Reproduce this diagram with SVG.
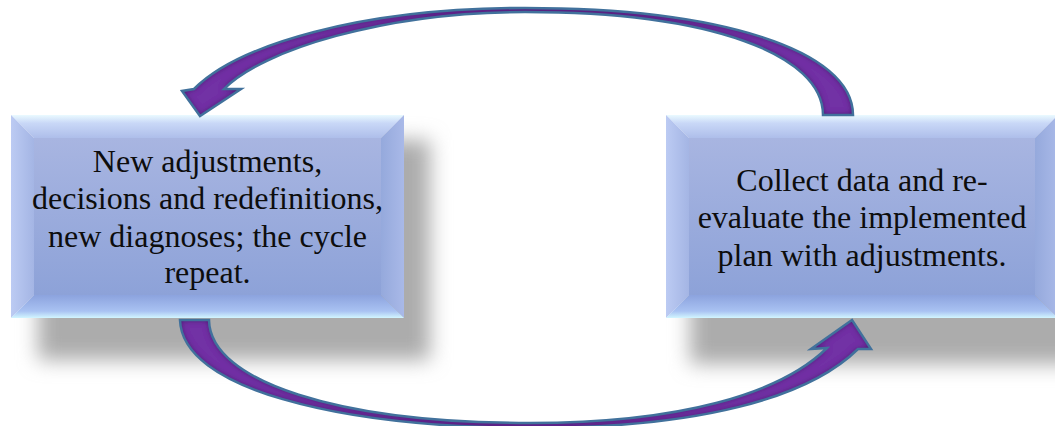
<svg xmlns="http://www.w3.org/2000/svg" width="1055" height="426" viewBox="0 0 1055 426">
<defs>
<style>
.txt{font-family:'Liberation Serif','Times New Roman','DejaVu Serif',serif;font-size:32px;fill:#0d0d0d;text-anchor:middle}
.arrowFill{fill:#7231a5;stroke:none;filter:url(#bevel)}
.arrowLine{fill:none;stroke:#41719c;stroke-width:2.5;stroke-linejoin:miter}
.shadow{fill:#acacac;filter:url(#blur)}
</style>
<filter id="blur" x="-20%" y="-30%" width="140%" height="160%"><feGaussianBlur stdDeviation="10"/></filter>
<filter id="bevel" x="-5%" y="-5%" width="110%" height="110%">
<feGaussianBlur in="SourceAlpha" stdDeviation="3" result="b"/>
<feComposite in="SourceAlpha" in2="b" operator="arithmetic" k2="1" k3="-1" result="edge"/>
<feFlood flood-color="#2a0c45" flood-opacity="0.9"/>
<feComposite in2="edge" operator="in" result="dark"/>
<feMerge><feMergeNode in="SourceGraphic"/><feMergeNode in="dark"/></feMerge>
</filter>
<linearGradient id="face" x1="0" y1="0" x2="0" y2="1"><stop offset="0" stop-color="#a8b5e1"/><stop offset="1" stop-color="#8da2d8"/></linearGradient>
<linearGradient id="topB" x1="0" y1="0" x2="0" y2="1"><stop offset="0" stop-color="#eafaff"/><stop offset="0.35" stop-color="#c9d8f7"/><stop offset="1" stop-color="#aebeea"/></linearGradient>
<linearGradient id="botB" x1="0" y1="0" x2="0" y2="1"><stop offset="0" stop-color="#8ca3de"/><stop offset="0.7" stop-color="#a9c2f2"/><stop offset="1" stop-color="#d2f6ff"/></linearGradient>
<linearGradient id="leftB" x1="0" y1="0" x2="1" y2="0"><stop offset="0" stop-color="#bccbf3"/><stop offset="1" stop-color="#a4b5e4"/></linearGradient>
<linearGradient id="rightB" x1="0" y1="0" x2="1" y2="0"><stop offset="0" stop-color="#95a9dc"/><stop offset="1" stop-color="#a9b9e8"/></linearGradient>
<path id="arrowTop" d="M853,115 C853,50 720,8 525,8 C360,8 238,45 194,89 L182,91 L200,116 L241,89 L224,89 C262,50 385,12 525,12 C712,12 823,55 823,115 Z"/>
<path id="arrowBottom" d="M180,320 C182,388 335,427 530,428 C700,428 808,398 858,349 L871,349 L852,320 L811,349 L827,348 C780,394 680,423 530,423 C340,423 210,382 209,320 Z"/>
</defs>
<rect width="1055" height="426" fill="#ffffff"/>
<g id="shadows">
<rect class="shadow" x="38" y="140" width="392" height="220"/>
<rect class="shadow" x="690" y="140" width="395" height="224"/>
</g>
<g id="node-left">
<polygon points="11,115 404,115 381,138 34,138" fill="url(#topB)"/>
<polygon points="11,115 34,138 34,295 11,318" fill="url(#leftB)"/>
<polygon points="404,115 404,318 381,295 381,138" fill="url(#rightB)"/>
<polygon points="11,318 34,295 381,295 404,318" fill="url(#botB)"/>
<rect x="34" y="138" width="347" height="157" fill="url(#face)"/>
<text class="txt" x="207.5" y="172">New adjustments,</text>
<text class="txt" x="207.5" y="209">decisions and redefinitions,</text>
<text class="txt" x="207.5" y="247">new diagnoses; the cycle</text>
<text class="txt" x="207.5" y="283">repeat.</text>
</g>
<g id="node-right">
<polygon points="666,115 1058,115 1035,138 689,138" fill="url(#topB)"/>
<polygon points="666,115 689,138 689,295 666,318" fill="url(#leftB)"/>
<polygon points="1058,115 1058,318 1035,295 1035,138" fill="url(#rightB)"/>
<polygon points="666,318 689,295 1035,295 1058,318" fill="url(#botB)"/>
<rect x="689" y="138" width="346" height="157" fill="url(#face)"/>
<text class="txt" x="862" y="191">Collect data and re-</text>
<text class="txt" x="862" y="228">evaluate the implemented</text>
<text class="txt" x="862" y="266">plan with adjustments.</text>
</g>
<g id="connectors">
<use href="#arrowTop" class="arrowFill"/>
<use href="#arrowTop" class="arrowLine"/>
<use href="#arrowBottom" class="arrowFill"/>
<use href="#arrowBottom" class="arrowLine"/>
</g>
</svg>
